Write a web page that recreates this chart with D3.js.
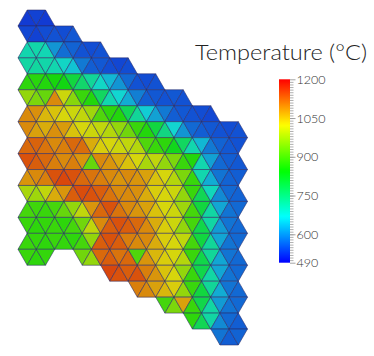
<!DOCTYPE html>
<html>
<head>
<meta charset="utf-8">
<script src="https://cdn.jsdelivr.net/npm/d3@7"></script>
<style>
body { margin: 0; background: #fff; }
</style>
</head>
<body>
<div id="mesh"></div>
<script>
//
// Temperature of each triangle, one row per band of the triangular mesh
// (band 0 at the top), 24 triangle slots per band, null = outside the mesh
//
var n = null;
var temperature = [
  [530,535,530,n,n,n,n,n,n,n,n,n,n,n,n,n,n,n,n,n,n,n,n,n],
  [540,535,545,550,545,555,n,n,n,n,n,n,n,n,n,n,n,n,n,n,n,n,n,n],
  [700,705,695,610,575,565,550,545,550,n,n,n,n,n,n,n,n,n,n,n,n,n,n,n],
  [710,715,705,700,680,650,585,560,555,545,540,545,n,n,n,n,n,n,n,n,n,n,n,n],
  [870,865,860,850,840,800,760,720,680,640,610,570,550,545,550,n,n,n,n,n,n,n,n,n],
  [960,940,920,1090,1010,950,880,860,770,700,670,630,590,560,555,550,555,550,n,n,n,n,n,n],
  [1090,1085,1050,1040,1020,1010,1000,970,900,870,860,780,720,660,620,585,560,555,550,545,540,n,n,n],
  [1090,1070,1060,1085,1075,1040,1020,1010,1000,990,960,930,880,860,800,740,670,610,570,560,555,550,545,550],
  [1120,1125,1110,1090,1100,1120,1115,1060,1030,1020,1010,1000,990,900,880,870,830,770,700,640,585,565,555,550],
  [1140,1130,1120,1100,1090,1100,1080,920,1090,1080,1060,1040,1020,980,1000,960,940,880,860,700,620,570,560,555],
  [1080,1090,1100,1140,1150,1140,1120,1110,1100,1090,1080,1090,1080,1070,1040,1020,990,940,880,700,630,580,565,560],
  [980,970,1000,1060,1080,1130,1145,1140,1130,1110,1090,1090,1085,1060,1030,1020,1010,960,880,780,690,600,570,565],
  [890,885,880,890,920,960,1000,1080,1120,1140,1110,1090,1080,1070,1040,1020,1010,970,890,800,710,625,580,570],
  [880,870,875,880,870,890,930,1000,1090,1130,1140,1130,1120,1090,1060,1030,1010,960,890,790,710,615,580,570],
  [880,875,870,880,875,870,890,960,1130,1140,1130,1100,1090,1090,1060,1030,1020,1000,890,800,720,625,580,570],
  [880,870,875,n,n,n,930,960,1120,1130,1110,1120,900,1080,1050,1030,1020,990,880,790,720,625,580,570],
  [n,n,n,n,n,n,n,n,n,1150,1140,1130,1140,1100,1080,1040,1020,960,880,790,710,625,580,570],
  [n,n,n,n,n,n,n,n,n,n,n,n,1100,1090,1070,1050,1030,960,880,800,720,630,580,570],
  [n,n,n,n,n,n,n,n,n,n,n,n,n,n,n,890,940,1070,880,790,710,615,580,570],
  [n,n,n,n,n,n,n,n,n,n,n,n,n,n,n,n,n,n,870,780,710,600,570,560],
  [n,n,n,n,n,n,n,n,n,n,n,n,n,n,n,n,n,n,n,n,n,580,560,565]
];

var colorRange = [490, 1200];
var tickLabels = [490, 600, 750, 900, 1050, 1200];
var title = "Temperature (\u00B0C)";

var W = 374, H = 356;

var svg = d3.select("#mesh").append("svg")
  .attr("width", W)
  .attr("height", H);

//
// lattice scales: half-edge units across, band lines down
//
var x = d3.scaleLinear().domain([-1, 24]).range([18, 247.5]);
var y = d3.scaleLinear().domain([0, temperature.length]).range([10, 345]);

var color = d3.scaleLinear()
  .domain([colorRange[0], (colorRange[0] + colorRange[1]) / 2, colorRange[1]])
  .range(["#0000ff", "#00ff00", "#ff0000"])
  .interpolate(d3.interpolateHsl);

// the mesh is lit, so it is a bit darker than the bar
function shade(v) {
  var c = d3.rgb(color(v));
  return d3.rgb(c.r * 0.78 + 18, c.g * 0.78 + 15, c.b * 0.78 + 12);
}

var tris = [];
temperature.forEach(function(row, b) {
  row.forEach(function(v, m) {
    if (v === null) return;
    var pts;
    if ((m + b) % 2 === 0) {
      pts = [[m, b], [m - 1, b + 1], [m + 1, b + 1]];
    } else {
      pts = [[m - 1, b], [m + 1, b], [m, b + 1]];
    }
    tris.push({ v: v, pts: pts });
  });
});

svg.append("g").selectAll("path")
  .data(tris)
  .enter().append("path")
  .attr("d", function(d) {
    return "M" + d.pts.map(function(p) { return x(p[0]) + "," + y(p[1]); }).join("L") + "Z";
  })
  .style("fill", function(d) { return shade(d.v); })
  .style("stroke", "#2b2b66")
  .style("stroke-opacity", 0.8)
  .style("stroke-width", 0.7)
  .style("stroke-linejoin", "round");

//
// colour bar
//
var barX = 279, barW = 11;
var cy = d3.scaleLinear().domain(colorRange).range([262.7, 79.3]);

var grad = svg.append("defs").append("linearGradient")
  .attr("id", "bar")
  .attr("x1", 0).attr("y1", 1).attr("x2", 0).attr("y2", 0);
d3.range(colorRange[0], colorRange[1] + 1, 10).forEach(function(v) {
  grad.append("stop")
    .attr("offset", (v - colorRange[0]) / (colorRange[1] - colorRange[0]))
    .attr("stop-color", color(v));
});

svg.append("rect")
  .attr("x", barX)
  .attr("y", cy(colorRange[1]))
  .attr("width", barW)
  .attr("height", cy(colorRange[0]) - cy(colorRange[1]))
  .style("fill", "url(#bar)");

var minor = d3.range(500, colorRange[1], 10);
var minorAxis = svg.append("g")
  .attr("transform", "translate(" + (barX + barW) + ",0)")
  .call(d3.axisRight(cy).tickValues(minor).tickSize(3.5).tickFormat(""));
minorAxis.select(".domain").remove();
minorAxis.selectAll("line").style("stroke", "#9a9a9a").style("stroke-width", 0.8);

var majorAxis = svg.append("g")
  .attr("transform", "translate(" + (barX + barW) + ",0)")
  .call(d3.axisRight(cy).tickValues(tickLabels).tickSize(5.5).tickPadding(1)
    .tickFormat(d3.format("d")));
majorAxis.select(".domain").remove();
majorAxis.selectAll("line").style("stroke", "#9a9a9a").style("stroke-width", 0.9);
majorAxis.selectAll("text")
  .style("font-family", "Lato, 'DejaVu Sans', sans-serif")
  .style("font-weight", 300)
  .style("font-size", "12.5px")
  .style("fill", "#333");

svg.append("text")
  .attr("x", 195)
  .attr("y", 60)
  .attr("textLength", 172)
  .attr("lengthAdjust", "spacingAndGlyphs")
  .style("font-family", "Lato, 'DejaVu Sans', sans-serif")
  .style("font-weight", 300)
  .style("font-size", "21px")
  .style("fill", "#222")
  .text(title);
</script>
</body>
</html>
